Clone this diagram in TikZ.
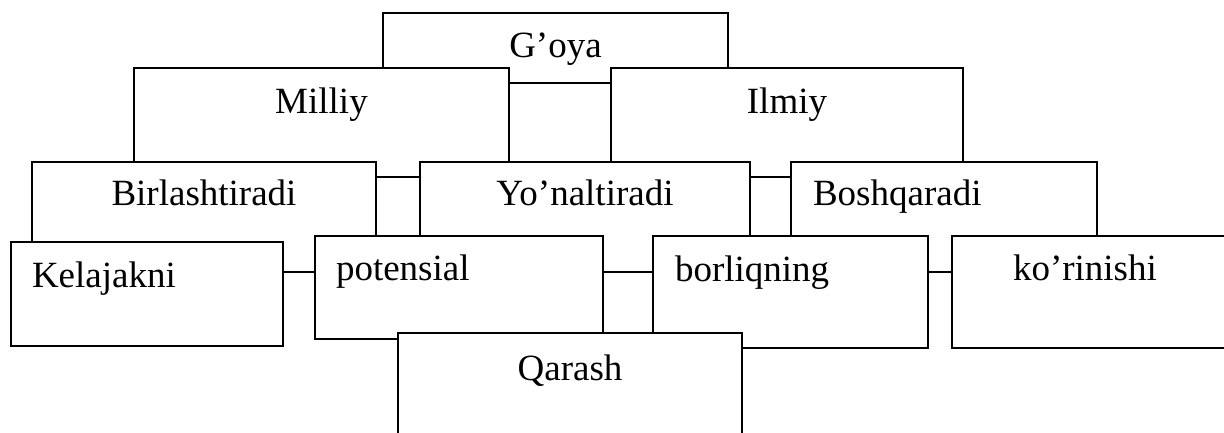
\documentclass[tikz,border=0pt]{standalone}
\usepackage{fontspec}
\setmainfont{Liberation Serif}
\tikzset{
  box/.style={draw=black, line width=1.5pt, fill=white, rectangle, inner sep=0pt, outer sep=0pt, anchor=north west},
  lbl/.style={inner sep=0pt, outer sep=0pt, font=\fontsize{37}{44}\selectfont},
}
\begin{document}
\begin{tikzpicture}[x=1pt,y=-1pt]
\useasboundingbox (0,0) rectangle (1224,433);
\clip (0,0) rectangle (1224,433);
% row 1
\node[box, minimum width=345pt, minimum height=70pt] (goya) at (383,13) {};
\node[lbl, anchor=base] (tgoya) at (555.5,58) {G’oya};
% row 2
\node[box, minimum width=375pt, minimum height=109pt] (milliy) at (134,68) {};
\node[lbl, anchor=base] (tmilliy) at (321.5,114) {Milliy};
\node[box, minimum width=352pt, minimum height=109pt] (ilmiy) at (611,68) {};
\node[lbl, anchor=base] (tilmiy) at (787,114) {Ilmiy};
% row 3
\node[box, minimum width=344pt, minimum height=110pt] (birl) at (32,162) {};
\node[lbl, anchor=base] (tbirl) at (204,205) {Birlashtiradi};
\node[box, minimum width=330pt, minimum height=110pt] (yon) at (420,162) {};
\node[lbl, anchor=base] (tyon) at (585,205) {Yo’naltiradi};
\node[box, minimum width=306pt, minimum height=110pt] (bosh) at (791,162) {};
\node[lbl, anchor=base west] (tbosh) at (813,205) {Boshqaradi};
% row 4
\node[box, minimum width=272pt, minimum height=104pt] (kel) at (11,242) {};
\node[lbl, anchor=base west] (tkel) at (32,287) {Kelajakni};
\node[box, minimum width=288pt, minimum height=103pt] (pot) at (315,236) {};
\node[lbl, anchor=base west] (tpot) at (336,280) {potensial};
\node[box, minimum width=275pt, minimum height=112pt] (bor) at (653,236) {};
\node[lbl, anchor=base west] (tbor) at (675,281) {borliqning};
\node[box, minimum width=300pt, minimum height=112pt] (kor) at (952,236) {};
\node[lbl, anchor=base west] (tkor) at (1013,280) {ko’rinishi};
% row 5
\node[box, minimum width=344pt, minimum height=130pt] (qar) at (398,333) {};
\node[lbl, anchor=base] (tqar) at (570,380) {Qarash};
\end{tikzpicture}
\end{document}
